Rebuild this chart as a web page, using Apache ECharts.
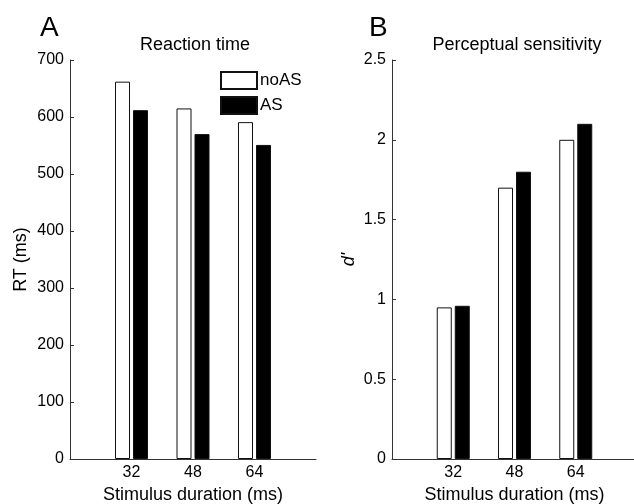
<!DOCTYPE html>
<html>
<head>
<meta charset="utf-8">
<script src="https://cdn.jsdelivr.net/npm/echarts@6/dist/echarts.min.js"></script>
<style>
  html, body { margin: 0; padding: 0; background: #fff; }
  #main { width: 634px; height: 504px; }
</style>
</head>
<body>
<div id="main"></div>
<script>
// stimulus durations (ms), padded with an empty slot on each side like the original axes
var durations = ['', '32', '48', '64', ''];
// reaction time (ms)
var rtNoAS = [null, 662, 615, 591, null];
var rtAS = [null, 612, 570, 551, null];
// perceptual sensitivity d'
var dNoAS = [null, 0.95, 1.70, 2.00, null];
var dAS = [null, 0.96, 1.80, 2.10, null];

var font = '"Liberation Sans", Arial, sans-serif';
var axisColor = '#333';

function xAxisFor(gridIndex) {
  return {
    type: 'category',
    gridIndex: gridIndex,
    data: durations,
    boundaryGap: false,
    name: 'Stimulus duration (ms)',
    nameLocation: 'middle',
    nameGap: 25,
    nameTextStyle: { fontSize: 18, color: '#000', fontFamily: font },
    axisLine: { lineStyle: { color: axisColor, width: 1 } },
    axisTick: { show: false },
    axisLabel: { interval: 0, fontSize: 16, color: '#000', fontFamily: font, margin: 6 },
    splitLine: { show: false }
  };
}

function yAxisFor(gridIndex, name, max, step, italic, gap) {
  return {
    type: 'value',
    gridIndex: gridIndex,
    min: 0,
    max: max,
    interval: step,
    name: name,
    nameLocation: 'middle',
    nameGap: gap,
    nameMoveOverlap: false,
    nameTextStyle: { fontSize: 18, color: '#000', fontFamily: font, fontStyle: italic ? 'italic' : 'normal' },
    axisLine: { show: true, lineStyle: { color: axisColor, width: 1 } },
    axisTick: { show: true, inside: true, length: 4, lineStyle: { color: axisColor } },
    axisLabel: { fontSize: 16, color: '#000', fontFamily: font, margin: 6 },
    splitLine: { show: false }
  };
}

function barSeries(name, data, idx, filled) {
  return {
    name: name,
    type: 'bar',
    xAxisIndex: idx,
    yAxisIndex: idx,
    data: data,
    barWidth: 15,
    barGap: '20%',
    itemStyle: {
      color: filled ? '#000' : '#fff',
      borderColor: '#111',
      borderWidth: 1
    },
    emphasis: { disabled: true }
  };
}

var chart = echarts.init(document.getElementById('main'));

var option = {
  backgroundColor: '#fff',
  animation: false,
  title: [
    { text: 'A', left: 35, top: 9, textStyle: { fontSize: 28, fontWeight: 'normal', color: '#000', fontFamily: font } },
    { text: 'B', left: 364, top: 9, textStyle: { fontSize: 28, fontWeight: 'normal', color: '#000', fontFamily: font } },
    { text: 'Reaction time', left: 190, textAlign: 'center', top: 31, textStyle: { fontSize: 18, fontWeight: 'normal', color: '#000', fontFamily: font } },
    { text: 'Perceptual sensitivity', left: 512, textAlign: 'center', top: 31, textStyle: { fontSize: 18, fontWeight: 'normal', color: '#000', fontFamily: font } }
  ],
  legend: {
    data: ['noAS', 'AS'],
    orient: 'vertical',
    left: 220,
    top: 71,
    padding: 0,
    itemWidth: 36,
    itemHeight: 17,
    itemGap: 6,
    icon: 'rect',
    selectedMode: false,
    textStyle: { fontSize: 17, color: '#000', fontFamily: font, padding: [0, 0, 0, -2] }
  },
  grid: [
    { left: 70, top: 60, width: 246, height: 399, outerBoundsMode: 'none', containLabel: false },
    { left: 392, top: 60, width: 245, height: 399, outerBoundsMode: 'none', containLabel: false }
  ],
  xAxis: [xAxisFor(0), xAxisFor(1)],
  yAxis: [
    yAxisFor(0, 'RT (ms)', 700, 100, false, 40),
    yAxisFor(1, "d'", 2.5, 0.5, true, 34)
  ],
  series: [
    barSeries('noAS', rtNoAS, 0, false),
    barSeries('AS', rtAS, 0, true),
    barSeries('noAS', dNoAS, 1, false),
    barSeries('AS', dAS, 1, true)
  ]
};

chart.setOption(option);
</script>
</body>
</html>
